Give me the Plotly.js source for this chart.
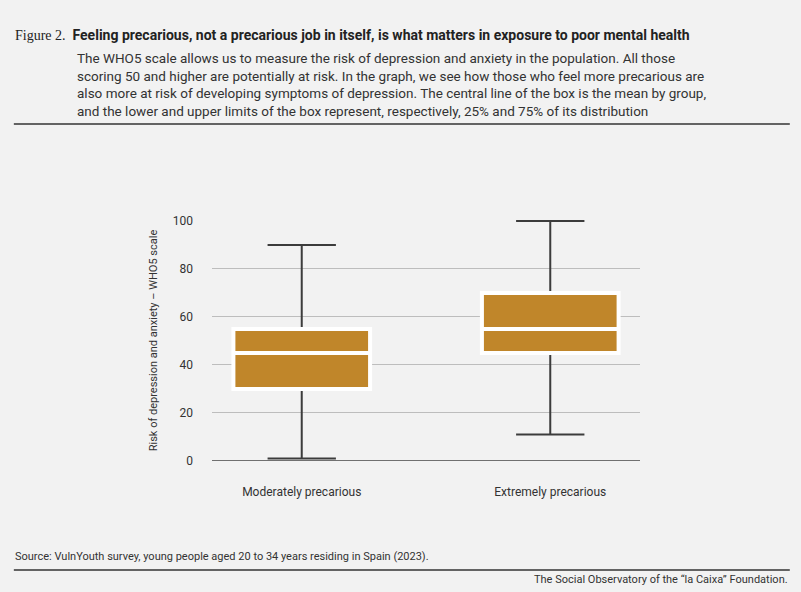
<!DOCTYPE html>
<html><head><meta charset="utf-8">
<script src="https://cdn.plot.ly/plotly-3.0.1.min.js"></script>
<style>body{margin:0;background:#f2f2f2}#c{width:801px;height:592px}</style>
</head><body><div id="c"></div>
<script>
// Groups and their distribution stats
const groups = ["Moderately precarious", "Extremely precarious"];
const lowFence = [1, 11];
const q1 = [30, 45];
const median = [45, 55];
const q3 = [55, 70];
const highFence = [90, 100];

const gold = "#c0862a";
const dark = "#3c3c3c";

const data = [
  { // whiskers + caps
    type: "box", x: groups, q1, median, q3,
    lowerfence: lowFence, upperfence: highFence,
    fillcolor: gold, line: { color: dark, width: 2 },
    whiskerwidth: 0.5, width: 0.55, hoverinfo: "skip"
  },
  { // box body with white mean line
    type: "box", x: groups, q1, median, q3,
    lowerfence: q1, upperfence: q3,
    fillcolor: gold, line: { color: "#ffffff", width: 4 },
    whiskerwidth: 0, width: 0.55
  }
];

const intro = "The WHO5 scale allows us to measure the risk of depression and anxiety in the population. All those<br>" +
  "scoring 50 and higher are potentially at risk. In the graph, we see how those who feel more precarious are<br>" +
  "also more at risk of developing symptoms of depression. The central line of the box is the mean by group,<br>" +
  "and the lower and upper limits of the box represent, respectively, 25% and 75% of its distribution";

const layout = {
  width: 801, height: 592,
  paper_bgcolor: "#f2f2f2", plot_bgcolor: "#f2f2f2",
  font: { family: "Roboto, Liberation Sans, sans-serif", color: "#333", size: 12 },
  margin: { l: 212, r: 161, t: 220, b: 131 },
  showlegend: false, boxmode: "overlay",
  xaxis: { showline: false, ticks: "", tickfont: { size: 12 }, ticklabelstandoff: 22, fixedrange: true },
  yaxis: {
    range: [0, 100.4], tickvals: [0, 20, 40, 60, 80, 100],
    gridcolor: "#bdbdbd", zeroline: false, showline: false,
    tickfont: { size: 12 }, ticklabelstandoff: 18,
    title: { text: "Risk of depression and anxiety – WHO5 scale", font: { size: 11 }, standoff: 12 }
  },
  shapes: [
    { type: "line", xref: "paper", yref: "y", x0: 0, x1: 1, y0: 0, y1: 0, line: { color: "#444", width: 1.5 } },
    { type: "line", xref: "paper", yref: "paper", x0: -0.463, x1: 1.35, y0: 1.398, y1: 1.398, line: { color: "#333", width: 1.5 } },
    { type: "line", xref: "paper", yref: "paper", x0: -0.463, x1: 1.35, y0: -0.452, y1: -0.452, line: { color: "#333", width: 1.5 } }
  ],
  annotations: [
    { xref: "paper", yref: "paper", x: -0.466, y: 1.768, xanchor: "left", yanchor: "middle", showarrow: false,
      text: "<span style='font-family:Liberation Serif'>Figure 2.</span>  <b>Feeling precarious, not a precarious job in itself, is what matters in exposure to poor mental health</b>",
      font: { size: 14, color: "#222" } },
    { xref: "paper", yref: "paper", x: -0.32, y: 1.715, xanchor: "left", yanchor: "top", align: "left", showarrow: false,
      text: intro, font: { size: 13.5, color: "#333" } },
    { xref: "paper", yref: "paper", x: -0.466, y: -0.398, xanchor: "left", yanchor: "middle", showarrow: false,
      text: "Source: VulnYouth survey, young people aged 20 to 34 years residing in Spain (2023).", font: { size: 11 } },
    { xref: "paper", yref: "paper", x: 1.35, y: -0.49, xanchor: "right", yanchor: "middle", showarrow: false,
      text: "The Social Observatory of the “la Caixa” Foundation.", font: { size: 11 } }
  ]
};

Plotly.newPlot("c", data, layout, { displayModeBar: false, staticPlot: true });
</script></body></html>
